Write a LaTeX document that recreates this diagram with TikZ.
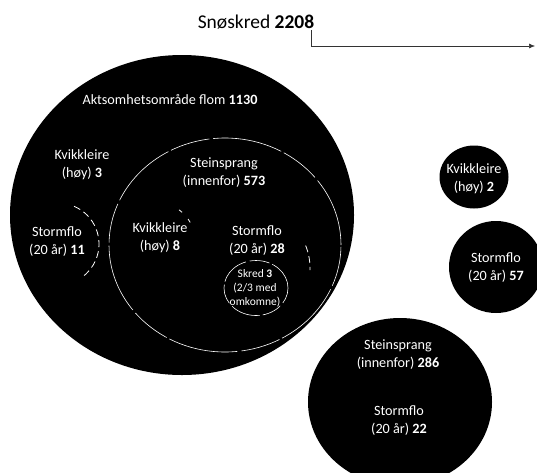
\documentclass[tikz,border=0pt]{standalone}
\usepackage{fontspec}
\setmainfont{Carlito}
\usetikzlibrary{shapes.geometric,arrows.meta}
\begin{document}
\begin{tikzpicture}[x=1pt,y=-1pt,
  blob/.style={ellipse, fill=black, draw=none, inner sep=0pt},
  lab/.style={text=white, align=center, font=\fontsize{14.2}{18}\selectfont, inner sep=0pt},
  smalllab/.style={text=white, align=center, font=\fontsize{11.5}{14}\selectfont, inner sep=0pt},
  ring/.style={ellipse, draw=white, line width=0.6pt, inner sep=0pt, fill=none, dash pattern=on 70pt off 4pt on 40pt off 3pt},
  frag/.style={draw=white, line width=0.8pt, dash pattern=on 7pt off 4pt},
  conn/.style={draw=black!80, line width=0.6pt}]
\useasboundingbox (0,0) rectangle (537,472);
\begin{scope}
\clip (0,0) rectangle (537,472);
% shapes
\node[blob, minimum width=344pt, minimum height=320pt] (flom) at (182,215) {};
\node[blob, minimum width=69pt, minimum height=63pt] (kv2) at (474,177) {};
\node[blob, minimum width=94pt, minimum height=92pt] (sf57) at (496,267) {};
\node[blob, minimum width=184pt, minimum height=168pt] (stein2) at (400,402) {};
\node[ring, minimum width=232pt, minimum height=214pt] (stein) at (225,245) {};
\node[ring, minimum width=64pt, minimum height=55pt, dash pattern=on 30pt off 3pt on 20pt off 4pt] (skredring) at (256,288) {};
% partial arcs
\draw[frag] (58,244) ++(-67:41) arc[start angle=-67, end angle=55, radius=41];
\draw[frag, dash pattern=on 4pt off 9pt] (160,238) ++(-56:34) arc[start angle=-56, end angle=-18, radius=34];
\draw[frag] (250,268) ++(-22:60) arc[start angle=-22, end angle=2, radius=60];
\end{scope}
% labels
\node[lab] (lflom) at (170,100) {Aktsomhetsområde flom \textbf{1130}};
\node[lab] (lkv3) at (82,165) {Kvikkleire\\(høy) \textbf{3}};
\node[lab] (lsf11) at (57,242) {Stormflo\\(20 år) \textbf{11}};
\node[lab] (lstein) at (224,173) {Steinsprang\\(innenfor) \textbf{573}};
\node[lab] (lkv8) at (160,238) {Kvikkleire\\(høy) \textbf{8}};
\node[lab] (lsf28) at (257,241) {Stormflo\\(20 år) \textbf{28}};
\node[smalllab] (lskred) at (255,288) {Skred \textbf{3}\\(2/3 med\\omkomne)};
\node[lab] (lkv2) at (474,179) {Kvikkleire\\(høy) \textbf{2}};
\node[lab] (lsf57) at (496,268) {Stormflo\\(20 år) \textbf{57}};
\node[lab] (lstein2) at (398,355) {Steinsprang\\(innenfor) \textbf{286}};
\node[lab] (lsf22) at (399,421) {Stormflo\\(20 år) \textbf{22}};
% title and arrow
\node[font=\fontsize{19.5}{22}\selectfont, inner sep=1pt] (title) at (256,22) {Snøskred \textbf{2208}};
\coordinate (corner) at (311,46);
\coordinate (tip) at (535,46);
\draw[conn, -{Latex[length=6pt,width=5pt]}] (corner |- title.south) -- (corner) -- (tip);
\end{tikzpicture}
\end{document}
